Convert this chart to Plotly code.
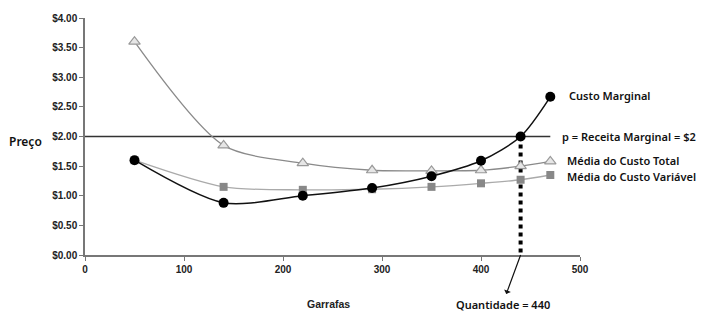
import plotly.graph_objects as go

quantities = [50, 140, 220, 290, 350, 400, 440, 470]
custo_marginal = [1.60, 0.88, 1.00, 1.13, 1.33, 1.59, 2.00, 2.67]
media_custo_total = [3.60, 1.85, 1.55, 1.43, 1.42, 1.43, 1.50, 1.58]
media_custo_variavel = [1.60, 1.15, 1.10, 1.11, 1.15, 1.21, 1.27, 1.35]
preco_receita = 2.0
quantidade_otima = 440
price_line_x = [0, 470]
y_ticks = [0, 0.5, 1.0, 1.5, 2.0, 2.5, 3.0, 3.5, 4.0]
x_ticks = [0, 100, 200, 300, 400, 500]

tick_font = dict(family="Liberation Sans, Arial, sans-serif", size=10, color="#222", weight="bold")
label_font = dict(family="Noto Sans, Open Sans, sans-serif", size=11, color="#111", weight=600)

fig = go.Figure()

fig.add_trace(go.Scatter(x=price_line_x, y=[preco_receita, preco_receita], mode="lines",
                         line=dict(color="#333", width=1.3), hoverinfo="skip", showlegend=False))

fig.add_trace(go.Scatter(x=[quantidade_otima, quantidade_otima], y=[preco_receita, 0], mode="lines",
                         line=dict(color="#000", width=4, dash="4px,4px"), showlegend=False))

fig.add_trace(go.Scatter(x=quantities, y=media_custo_variavel, mode="lines+markers",
                         line=dict(color="#aaaaaa", width=1.3, shape="spline", smoothing=0.8),
                         marker=dict(symbol="square", size=8, color="#888888",
                                     line=dict(color="#888888", width=0)),
                         showlegend=False))
fig.add_trace(go.Scatter(x=quantities, y=media_custo_total, mode="lines+markers",
                         line=dict(color="#8a8a8a", width=1.3, shape="spline", smoothing=0.8),
                         marker=dict(symbol="triangle-up", size=10, color="#e6e6e6",
                                     line=dict(color="#999999", width=1.2)),
                         showlegend=False))
fig.add_trace(go.Scatter(x=quantities, y=custo_marginal, mode="lines+markers",
                         line=dict(color="#111111", width=1.5, shape="spline", smoothing=0.8),
                         marker=dict(symbol="circle", size=10, color="#000000"),
                         showlegend=False))

annotations = [
    dict(x=487, y=custo_marginal[-1] + 0.02, xref="x", yref="y", text="Custo Marginal",
         showarrow=False, xanchor="left", font=label_font),
    dict(x=480, y=preco_receita, xref="x", yref="y", text="p = Receita Marginal = $2",
         showarrow=False, xanchor="left", font=label_font),
    dict(x=485, y=1.59, xref="x", yref="y", text="Média do Custo Total",
         showarrow=False, xanchor="left", font=label_font),
    dict(x=485, y=1.32, xref="x", yref="y", text="Média do Custo Variável",
         showarrow=False, xanchor="left", font=label_font),
    dict(x=(25 - 85) / 495, y=(255 - 141) / 237, xref="paper", yref="paper", text="Preço",
         showarrow=False, xanchor="center", yanchor="middle",
         font=dict(family=label_font["family"], size=12, color="#111", weight=600)),
    dict(x=quantidade_otima, y=0, xref="x", yref="y", text="Quantidade = 440",
         showarrow=True, arrowside="start", arrowhead=2, arrowsize=1.4, arrowwidth=1.2,
         arrowcolor="#111", ax=-18, ay=49, standoff=0, startstandoff=1, font=label_font),
    dict(x=(328 - 85) / 495, y=-(304 - 255) / 237, xref="paper", yref="paper", text="Garrafas",
         showarrow=False, xanchor="center", yanchor="middle",
         font=dict(family=tick_font["family"], size=10.5, color="#222", weight="bold")),
]

fig.update_layout(
    width=704, height=326,
    margin=dict(l=85, r=124, t=18, b=71),
    paper_bgcolor="white", plot_bgcolor="white",
    annotations=annotations,
    xaxis=dict(range=[0, 500], tickvals=x_ticks, showgrid=False, zeroline=False,
               showline=True, linecolor="#777", linewidth=1.5, ticks="outside",
               ticklen=4, tickcolor="#777", tickfont=tick_font),
    yaxis=dict(range=[0, 4], tickvals=y_ticks, tickformat="$.2f", showgrid=False,
               zeroline=False, showline=True, linecolor="#777", linewidth=1.5,
               ticks="outside", ticklen=4, tickcolor="#777", tickfont=tick_font),
)

fig.write_html("out.html")
